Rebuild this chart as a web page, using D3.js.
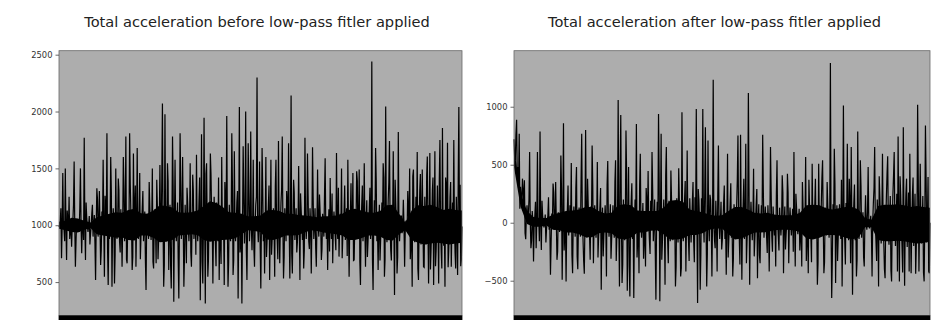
<!DOCTYPE html>
<html><head><meta charset="utf-8">
<script src="https://cdn.jsdelivr.net/npm/d3@7"></script>
<style>body{margin:0;background:#fff}svg{display:block}</style>
</head><body>
<svg id="c" width="936" height="320"></svg>
<script>
const titles = ["Total acceleration before low-pass fitler applied", "Total acceleration after low-pass fitler applied"];
const ticksBefore = [500, 1000, 1500, 2000, 2500];
const ticksAfter = [-500, 0, 500, 1000];
// sample values (spikes and troughs)
const before = [
985,1040,709,1460,960,1500,694,1050,1250,950,
812,1040,1560,635,1030,960,940,1500,753,1040,
1770,694,1060,940,1080,920,1100,900,1090,518,
1325,900,1300,650,1120,1575,547,1150,1810,474,
880,1600,459,1150,488,1500,880,1410,860,1140,
635,1600,860,1780,665,900,1810,1100,606,1630,
1120,635,1680,880,1460,900,1150,860,1120,430,
1100,880,1160,870,1500,620,1140,665,1160,880,
1530,880,2070,459,1975,860,1545,606,1180,444,
1780,327,1575,860,1200,356,1810,880,1600,459,
1180,665,1200,860,1545,635,1445,880,1120,1620,
860,1220,341,1800,488,1945,312,1545,547,1200,
1630,1100,488,1250,840,1200,860,518,880,1600,
880,474,1200,1960,459,1180,860,1810,562,1650,
860,1200,356,2040,850,312,1695,840,2000,518,
1720,860,1825,780,1575,635,1180,2300,850,1560,
444,1680,860,576,1600,870,1180,518,1575,880,
1150,547,1575,870,1740,665,1200,1780,532,1150,
860,1180,1720,532,2140,576,1400,870,1150,850,
1520,518,1130,870,620,1770,880,1630,860,1150,
576,1685,880,1150,635,1490,900,1120,694,1100,
900,1590,880,606,1140,1415,880,665,1120,900,
1635,880,724,1100,1500,900,1120,870,1150,1575,
547,1100,880,1460,694,1140,1475,880,1490,474,
1180,860,1545,635,1220,860,1150,880,2440,430,
1220,1680,860,606,1180,870,1200,1545,547,2045,
850,1220,1740,780,1150,1650,386,1180,576,1820,
860,1080,930,1225,635,1040,960,1120,1500,860,
459,1490,850,1250,1645,518,1300,830,1490,635,
1250,830,1605,488,1635,800,1300,474,1650,780,
1350,488,1750,780,1855,820,459,1350,1725,780,
1250,635,1200,1750,760,1250,562,2040,1355,694
];
// in-between samples (medium swings)
const beforeMid = [
1000,1150,990,1010,860,1000,1130,980,880,1010,
1000,1180,1000,860,990,1010,1160,990,1000,870,
1000,1200,990,1000,830,1000,1180,1000,840,990,
1230,1000,990,780,1000,1000,1260,990,790,1000,
1000,1290,990,1000,740,1000,1000,1310,760,990,
1000,1330,1000,700,990,1000,1360,990,720,1000,
1350,1000,990,1000,700,1010,1300,990,690,1000,
1000,1380,1000,990,680,1000,1000,1400,700,1000,
1000,1420,990,650,1000,1000,1390,1000,640,990,
1350,1000,1000,990,700,1000,1380,990,1000,720,
1000,1330,990,1000,760,1000,1300,1000,740,990,
1000,1420,1000,680,990,1000,1450,990,700,1000,
1450,1000,990,1000,640,1000,1420,1000,660,990,
1000,1380,1000,990,680,1000,1000,1350,690,1000,
1000,1300,990,760,1000,1000,1280,1000,780,990,
1260,1000,1000,990,800,1000,1250,990,1000,810,
1000,1320,990,1000,720,1000,1350,1000,740,990,
1000,1340,1000,700,990,1000,1320,990,720,1000,
1300,1000,990,1000,750,1000,1290,1000,760,990,
1000,1280,1000,990,780,1000,1000,1260,790,1000,
1000,1250,990,800,1000,1000,1270,1000,790,990,
1270,1000,1000,990,770,1000,1280,990,1000,780,
1000,1330,990,1000,710,1000,1350,1000,730,990,
1000,1370,1000,690,990,1000,1390,990,680,1000,
1350,1000,990,1000,720,1000,1330,1000,700,990,
1000,1400,1000,990,690,1000,1000,1420,700,1000,
1000,1380,990,690,1000,1000,1400,1000,720,990,
1000,1080,990,1000,940,1000,1300,1000,700,990,
1430,1000,1000,990,620,1000,1450,990,1000,630,
1000,1440,990,1000,610,1000,1420,1000,640,990,
1000,1400,1000,620,990,1000,1420,990,630,1000,
1380,1000,990,1000,620,1000,1400,1000,640,990
];
const after = [
720,540,887,480,766,309,180,280,366,-143,
150,60,609,-220,100,-335,60,-220,609,40,
786,-235,60,-40,70,-50,60,-60,-449,80,
337,-60,352,-320,90,-80,580,-492,858,-100,
-506,120,-110,150,515,-435,140,-120,480,-400,
130,-120,766,-140,-440,800,-130,160,-110,140,
666,-349,150,-130,523,-120,140,-578,130,-110,
150,-463,532,-120,160,-140,150,-130,538,-120,
1058,-549,929,-520,200,-150,795,-586,480,-635,
180,-140,-649,200,852,-150,-435,595,-130,170,
-140,-378,180,446,-150,190,609,-160,200,-663,
180,938,-678,766,-160,200,-535,652,-150,190,
-160,200,-150,180,-549,210,-170,190,-463,952,
-160,200,-420,623,-150,210,-170,190,-160,220,
981,-692,200,-578,210,981,-170,823,-549,709,
-160,200,-463,1233,-150,190,-420,666,-140,180,
-150,170,-140,-449,595,-140,170,-130,-463,160,
-130,150,752,-120,758,-492,160,-140,681,-150,
1118,-535,180,-150,466,-140,160,-478,160,-349,
150,758,-130,140,-120,150,-420,652,-120,140,
-110,-378,538,-120,130,-110,409,-435,140,-100,
423,-349,130,-110,120,609,-378,130,-100,120,
-110,-378,130,-100,566,-120,-435,140,-110,509,
-120,140,-110,-535,509,-120,150,538,-435,130,
-110,150,-130,1378,-649,160,638,-520,150,-130,
160,-140,-549,1010,-140,170,681,-150,180,652,
-620,170,-150,-463,786,-140,538,-130,90,-378,
237,-60,480,-50,60,-463,170,652,-160,200,
-549,220,-180,595,-170,-478,220,572,-190,230,
-506,240,609,-200,250,744,-506,240,-200,823,
-543,250,-210,260,595,-435,240,-200,250,-190,
1018,-420,509,-180,230,-506,838,-170,395,-435
];
const afterMid = [
560,760,380,300,120,210,380,120,-90,60,
30,200,10,-150,20,0,180,10,0,-160,
0,190,10,0,-170,0,220,-10,-180,0,
260,0,10,-250,0,0,280,-10,-240,0,
0,320,10,0,-280,0,0,300,-290,0,
0,360,10,-330,0,0,380,-10,-320,0,
320,0,10,0,-300,0,300,-10,-290,0,
0,330,10,0,-310,0,0,350,-330,0,
0,400,10,-360,0,0,420,-10,-380,0,
340,0,10,0,-300,0,320,-10,0,-310,
0,300,10,0,-270,0,290,-10,-260,0,
0,380,10,-320,0,0,400,-10,-350,0,
450,0,10,0,-380,0,470,-10,-390,0,
0,360,10,0,-330,0,0,350,-340,0,
0,290,10,-280,0,0,270,-10,-270,0,
240,0,10,0,-220,0,230,-10,0,-230,
0,320,10,0,-300,0,340,-10,-310,0,
0,370,10,-360,0,0,380,-10,-350,0,
300,0,10,0,-290,0,290,-10,-280,0,
0,280,10,0,-260,0,0,270,-250,0,
0,250,10,-240,0,0,260,-10,-230,0,
260,0,10,0,-250,0,250,-10,0,-240,
0,350,10,0,-330,0,370,-10,-340,0,
0,380,10,-350,0,0,390,-10,-340,0,
350,0,10,0,-320,0,340,-10,-330,0,
0,370,10,0,-360,0,0,380,-350,0,
0,330,10,-320,0,0,320,-10,-300,0,
0,90,10,0,-80,0,300,-10,-330,0,
400,0,10,0,-400,0,420,-10,0,-410,
0,410,10,0,-420,0,400,-10,-430,0,
0,380,10,-420,0,0,390,-10,-440,0,
370,0,10,0,-430,0,380,-10,-420,0
];
// solid inner band of the signal, read at 65 evenly spaced positions
const beforeCoreHigh = [1030,1040,1065,1060,1040,1025,1070,1085,1100,1115,1110,1135,1145,1105,1100,1130,1175,1170,1155,1115,1110,1115,1130,1170,1210,1195,1160,1115,1110,1100,1080,1080,1085,1130,1135,1125,1100,1100,1090,1085,1080,1070,1080,1080,1085,1100,1135,1145,1130,1115,1110,1125,1175,1180,1100,1025,1130,1175,1170,1180,1160,1135,1145,1135,1130];
const beforeCoreLow = [970,955,940,935,960,975,920,910,900,890,895,870,865,910,910,890,850,855,870,910,915,920,915,870,855,865,870,875,885,920,955,950,940,875,870,885,910,910,915,935,955,950,935,930,920,910,870,870,885,910,910,900,870,865,920,955,870,845,830,840,845,840,830,840,845];
const afterCoreHigh = [650,260,100,50,40,40,70,85,100,105,115,135,135,100,80,85,150,160,150,105,100,100,100,130,190,195,180,115,100,90,70,60,65,100,135,135,115,85,80,85,70,65,65,65,85,150,155,150,125,115,125,135,135,115,40,25,145,155,155,160,150,135,145,135,130];
const afterCoreLow = [480,140,-10,-35,-35,-25,-60,-65,-85,-85,-100,-125,-125,-90,-85,-90,-135,-145,-130,-85,-85,-70,-65,-100,-145,-145,-135,-105,-105,-90,-60,-50,-50,-100,-145,-135,-110,-85,-85,-80,-65,-60,-60,-65,-80,-135,-145,-130,-105,-105,-110,-130,-145,-130,-40,-40,-150,-160,-160,-155,-160,-170,-180,-175,-160];

const svg = d3.select("#c");
const panels = [
  {data: before, mid: beforeMid, hi: beforeCoreHigh, lo: beforeCoreLow, ticks: ticksBefore, title: titles[0], x0: 59, x1: 462, dom: [207, 2535], tx: 257},
  {data: after, mid: afterMid, hi: afterCoreHigh, lo: afterCoreLow, ticks: ticksAfter, title: titles[1], x0: 514, x1: 930, dom: [-799, 1483], tx: 714.5}
];
const plotTop = 50.7, plotBot = 315.4;
const fmt = d => (d < 0 ? "\u2212" + Math.abs(d) : String(d));

panels.forEach(p => {
  const series = p.data.flatMap((v, i) => [v, p.mid[i]]);
  const x = d3.scaleLinear().domain([0, series.length - 1]).range([p.x0, p.x1]);
  const xc = d3.scaleLinear().domain([0, p.hi.length - 1]).range([p.x0, p.x1]);
  const y = d3.scaleLinear().domain(p.dom).range([plotBot, plotTop]);
  const g = svg.append("g");
  g.append("rect").attr("x", p.x0).attr("y", plotTop).attr("width", p.x1 - p.x0).attr("height", plotBot - plotTop)
    .attr("fill", "#adadad");
  g.append("path").datum(p.hi.map((h, i) => [h, p.lo[i]]))
    .attr("d", d3.area().x((d, i) => xc(i)).y0(d => y(d[1])).y1(d => y(d[0])))
    .attr("fill", "#000");
  g.append("path").datum(series)
    .attr("d", d3.line().x((d, i) => x(i)).y(d => y(d)))
    .attr("fill", "none").attr("stroke", "#000").attr("stroke-width", 1.2).attr("stroke-linejoin", "miter");
  g.append("rect").attr("x", p.x0).attr("y", plotTop).attr("width", p.x1 - p.x0).attr("height", plotBot - plotTop)
    .attr("fill", "none").attr("stroke", "#666").attr("stroke-width", 0.8);
  g.append("rect").attr("x", p.x0 - 0.4).attr("y", plotBot).attr("width", p.x1 - p.x0 + 0.8).attr("height", 320 - plotBot)
    .attr("fill", "#000");
  const ax = g.append("g").attr("transform", `translate(${p.x0},0)`)
    .call(d3.axisLeft(y).tickValues(p.ticks).tickFormat(fmt).tickSize(3.5).tickPadding(3));
  ax.select(".domain").remove();
  ax.selectAll("line").attr("stroke", "#444").attr("stroke-width", 0.8);
  ax.selectAll("text").attr("fill", "#333").style("font-family", "DejaVu Sans, sans-serif").style("font-size", "8.4px");
  svg.append("text").attr("x", p.tx).attr("y", 27).attr("text-anchor", "middle")
    .style("font-family", "DejaVu Sans, sans-serif").style("font-size", "14.6px").attr("fill", "#222")
    .text(p.title);
});
</script>
</body></html>
